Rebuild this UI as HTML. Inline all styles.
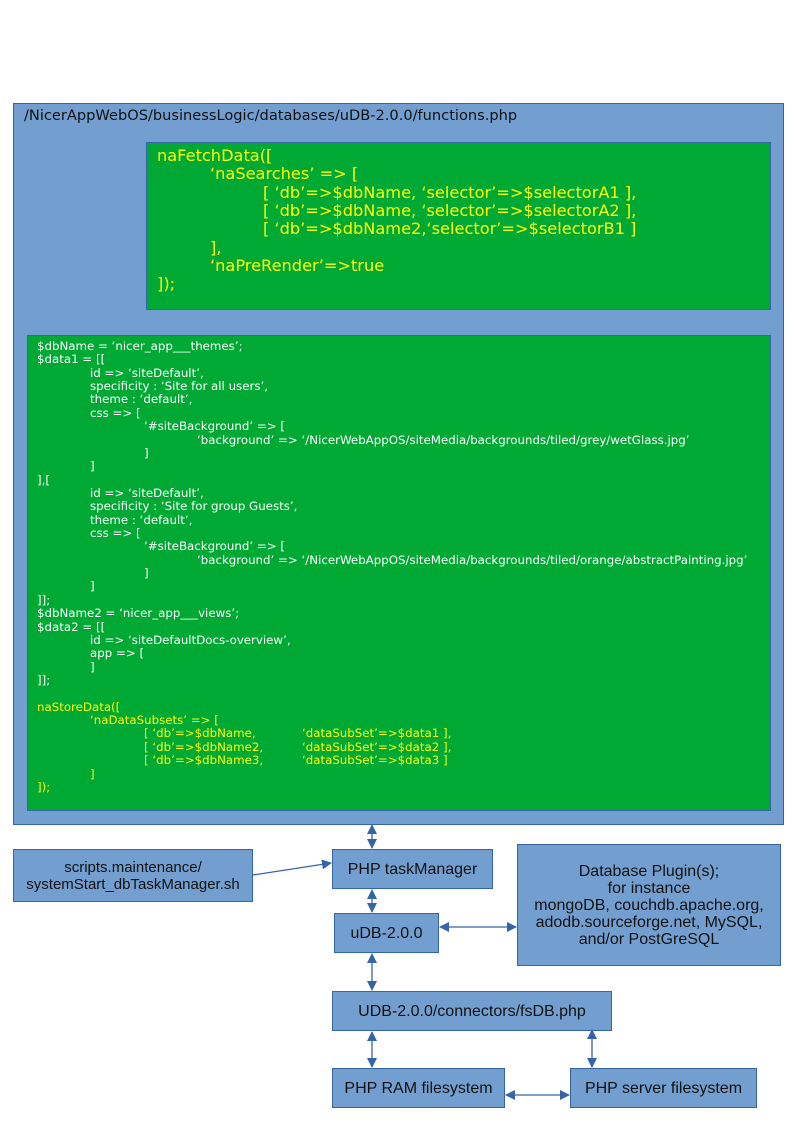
<!DOCTYPE html>
<html><head><meta charset="utf-8"><style>
body{margin:0;width:794px;height:1123px;background:#fff;position:relative;overflow:hidden}
.b{position:absolute;background:#729fcf;border:1px solid #3465a4;box-sizing:border-box;font-family:"Liberation Sans",sans-serif;font-size:16px;color:#111;display:flex;align-items:center;justify-content:center;text-align:center;line-height:17px}
.g{position:absolute;background:#00a933;border:1px solid #3465a4;box-sizing:border-box}
.t{position:absolute;font-family:"DejaVu Sans",sans-serif;white-space:pre;margin:0}
.l{position:absolute;white-space:pre}
</style></head><body>
<div class="b" style="left:13px;top:103px;width:771px;height:722px;display:block"></div>
<div class="t" style="left:24px;top:107px;font-size:14.6px;color:#111">/NicerAppWebOS/businessLogic/databases/uDB-2.0.0/functions.php</div>
<div class="g" style="left:146px;top:142px;width:625px;height:168px"></div>
<div class="t" style="left:157px;top:147px;font-size:16.2px;line-height:18.3px;color:#ffff00"><span class="l" style="left:0;top:0">naFetchData([</span><span class="l" style="left:53px;top:18.3px">‘naSearches’ =&gt; [</span><span class="l" style="left:106px;top:36.6px">[ ‘db’=&gt;$dbName, ‘selector’=&gt;$selectorA1 ],</span><span class="l" style="left:106px;top:54.9px">[ ‘db’=&gt;$dbName, ‘selector’=&gt;$selectorA2 ],</span><span class="l" style="left:106px;top:73.2px">[ ‘db’=&gt;$dbName2,‘selector’=&gt;$selectorB1 ]</span><span class="l" style="left:53px;top:91.5px">],</span><span class="l" style="left:53px;top:109.8px">‘naPreRender’=&gt;true</span><span class="l" style="left:0;top:128.1px">]);</span></div>
<div class="g" style="left:27px;top:335px;width:744px;height:476px"></div>
<div class="t" style="left:37px;top:340px;font-size:11.8px;line-height:13.36px;color:#ffffff"><span class="l" style="left:0;top:0">$dbName = ‘nicer_app___themes’;</span><span class="l" style="left:0;top:13.36px">$data1 = [[</span><span class="l" style="left:53px;top:26.72px">id =&gt; ‘siteDefault’,</span><span class="l" style="left:53px;top:40.08px">specificity : ‘Site for all users’,</span><span class="l" style="left:53px;top:53.44px">theme : ‘default’,</span><span class="l" style="left:53px;top:66.8px">css =&gt; [</span><span class="l" style="left:107px;top:80.16px">‘#siteBackground’ =&gt; [</span><span class="l" style="left:160px;top:93.52px">‘background’ =&gt; ‘/NicerWebAppOS/siteMedia/backgrounds/tiled/grey/wetGlass.jpg’</span><span class="l" style="left:107px;top:106.88px">]</span><span class="l" style="left:53px;top:120.24px">]</span><span class="l" style="left:0;top:133.6px">],[</span><span class="l" style="left:53px;top:146.96px">id =&gt; ‘siteDefault’,</span><span class="l" style="left:53px;top:160.32px">specificity : ‘Site for group Guests’,</span><span class="l" style="left:53px;top:173.68px">theme : ‘default’,</span><span class="l" style="left:53px;top:187.04px">css =&gt; [</span><span class="l" style="left:107px;top:200.4px">‘#siteBackground’ =&gt; [</span><span class="l" style="left:160px;top:213.76px">‘background’ =&gt; ‘/NicerWebAppOS/siteMedia/backgrounds/tiled/orange/abstractPainting.jpg’</span><span class="l" style="left:107px;top:227.12px">]</span><span class="l" style="left:53px;top:240.48px">]</span><span class="l" style="left:0;top:253.84px">]];</span><span class="l" style="left:0;top:267.2px">$dbName2 = ‘nicer_app___views’;</span><span class="l" style="left:0;top:280.56px">$data2 = [[</span><span class="l" style="left:53px;top:293.92px">id =&gt; ‘siteDefaultDocs-overview’,</span><span class="l" style="left:53px;top:307.28px">app =&gt; [</span><span class="l" style="left:53px;top:320.64px">]</span><span class="l" style="left:0;top:334px">]];</span>
<span class="l" style="left:0;top:360.7px;color:#ffff00">naStoreData([</span><span class="l" style="left:53px;top:374.1px;color:#ffff00">‘naDataSubsets’ =&gt; [</span><span class="l" style="left:107px;top:387.4px;color:#ffff00">[ ‘db’=&gt;$dbName,</span><span class="l" style="left:265px;top:387.4px;color:#ffff00">‘dataSubSet’=&gt;$data1 ],</span><span class="l" style="left:107px;top:400.8px;color:#ffff00">[ ‘db’=&gt;$dbName2,</span><span class="l" style="left:265px;top:400.8px;color:#ffff00">‘dataSubSet’=&gt;$data2 ],</span><span class="l" style="left:107px;top:414.2px;color:#ffff00">[ ‘db’=&gt;$dbName3,</span><span class="l" style="left:265px;top:414.2px;color:#ffff00">‘dataSubSet’=&gt;$data3 ]</span><span class="l" style="left:53px;top:427.5px;color:#ffff00">]</span><span class="l" style="left:0;top:440.9px;color:#ffff00">]);</span></div>

<div class="b" style="left:13px;top:849px;width:240px;height:53px;font-size:15px">scripts.maintenance/<br>systemStart_dbTaskManager.sh</div>
<div class="b" style="left:332px;top:849px;width:161px;height:40px">PHP taskManager</div>
<div class="b" style="left:334px;top:913px;width:105px;height:40px">uDB-2.0.0</div>
<div class="b" style="left:517px;top:844px;width:264px;height:122px">Database Plugin(s);<br>for instance<br>mongoDB, couchdb.apache.org,<br>adodb.sourceforge.net, MySQL,<br>and/or PostGreSQL</div>
<div class="b" style="left:332px;top:991px;width:280px;height:40px">UDB-2.0.0/connectors/fsDB.php</div>
<div class="b" style="left:332px;top:1068px;width:173px;height:40px">PHP RAM filesystem</div>
<div class="b" style="left:570px;top:1068px;width:187px;height:40px">PHP server filesystem</div>

<svg width="794" height="1123" style="position:absolute;left:0;top:0" fill="#3465a4" stroke="#3465a4">
<defs><marker id="a" markerWidth="10" markerHeight="10" refX="9" refY="5" orient="auto-start-reverse" markerUnits="userSpaceOnUse"><path d="M0,0L10,5L0,10z" stroke="none"/></marker></defs>
<g stroke-width="1.3" marker-start="url(#a)" marker-end="url(#a)">
<line x1="372" y1="825" x2="372" y2="848"/>
<line x1="372" y1="890" x2="372" y2="912"/>
<line x1="440" y1="927" x2="516" y2="927"/>
<line x1="372" y1="954" x2="372" y2="990"/>
<line x1="372" y1="1032" x2="372" y2="1067"/>
<line x1="592" y1="1030" x2="592" y2="1067"/>
<line x1="506" y1="1095" x2="569" y2="1095"/>
</g>
<line x1="253" y1="875" x2="331" y2="863" stroke-width="1.3" marker-end="url(#a)"/>
</svg>
</body></html>
